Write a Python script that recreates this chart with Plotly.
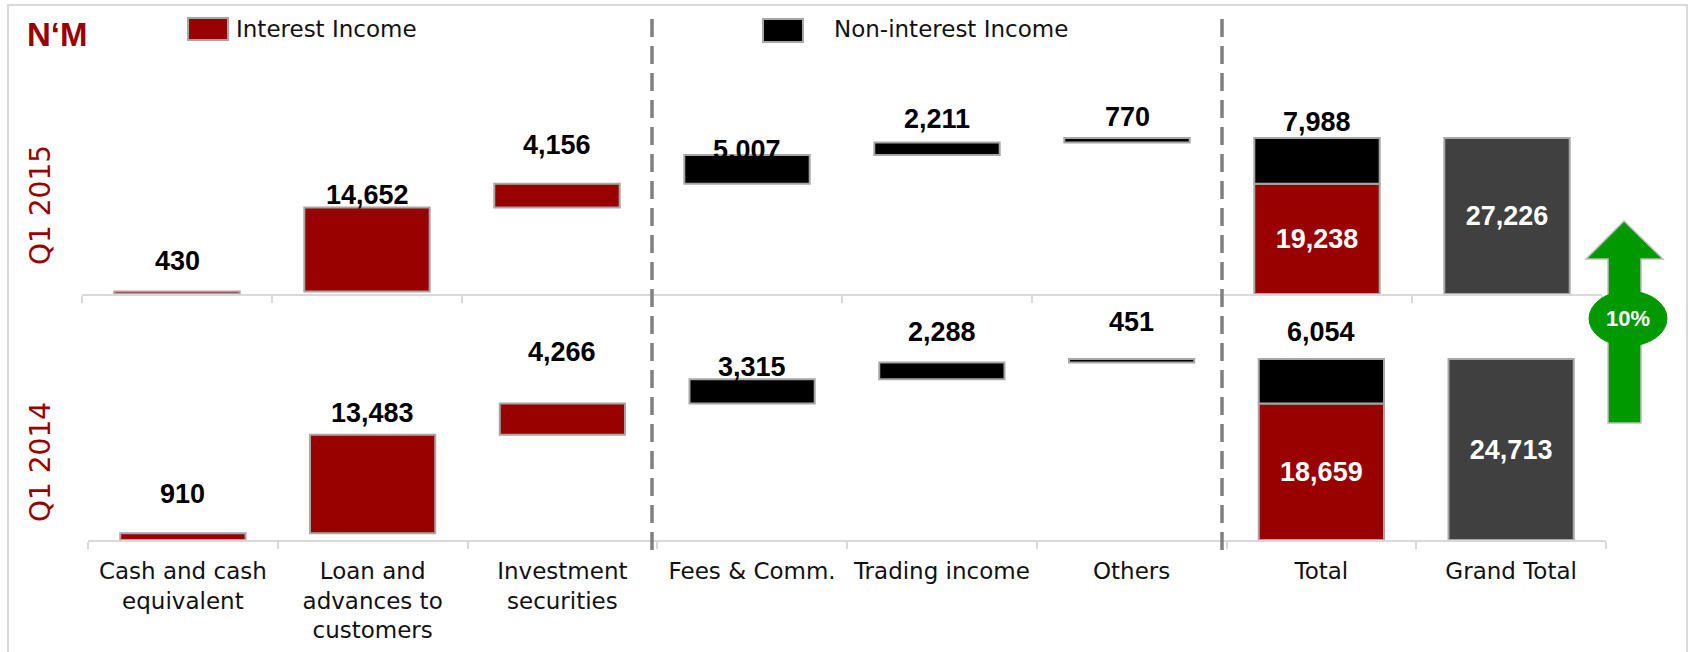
import plotly.graph_objects as go

W, H = 1690, 652

# ---- data -------------------------------------------------------------
categories = [
    "Cash and cash<br>equivalent",
    "Loan and<br>advances to<br>customers",
    "Investment<br>securities",
    "Fees & Comm.",
    "Trading income",
    "Others",
    "Total",
    "Grand Total",
]
interest_cats = categories[0:3]
non_interest_cats = categories[3:6]

periods = ["Q1 2015", "Q1 2014"]
interest_2015 = [430, 14652, 4156]
non_interest_2015 = [5007, 2211, 770]
interest_2014 = [910, 13483, 4266]
non_interest_2014 = [3315, 2288, 451]

# ---- styling ------------------------------------------------------------
RED = "#990000"
BLACK = "#000000"
GREY_TOTAL = "#404040"
OUTLINE = "#a6a6a6"
AXIS = "#d9d9d9"
GREEN = "#009900"
NUM_FONT = "Liberation Sans, Arial, sans-serif"
TXT_FONT = "DejaVu Sans, sans-serif"
BAR_W = 0.66

# pixel lift of each value label above the top of its bar
lift_2015 = [31, 13, 39, 5, 23, 21, 16]
lift_2014 = [39, 22, 51, 12, 30, 37, 27]


def fx(x):
    return x / W


def fy(y):
    return 1 - y / H


fig = go.Figure()
annotations = []


def add_panel(interest, non_interest, xa, ya, lifts):
    """Waterfall of one period: interest, non-interest, total, grand total."""
    xref = "x" if xa == "x" else "x2"
    yref = "y" if ya == "y" else "y2"
    int_total = sum(interest)
    non_total = sum(non_interest)
    grand = int_total + non_total

    int_base, run = [], 0
    for v in interest:
        int_base.append(run)
        run += v
    non_base = []
    for v in non_interest:
        non_base.append(run)
        run += v

    line = dict(color=OUTLINE, width=2)
    fig.add_bar(x=interest_cats, y=interest, base=int_base, marker=dict(color=RED, line=line),
                width=BAR_W, xaxis=xa, yaxis=ya, showlegend=False, hoverinfo="skip")
    fig.add_bar(x=non_interest_cats, y=non_interest, base=non_base, marker=dict(color=BLACK, line=line),
                width=BAR_W, xaxis=xa, yaxis=ya, showlegend=False, hoverinfo="skip")
    # stacked total
    fig.add_bar(x=["Total"], y=[int_total], base=[0], marker=dict(color=RED, line=line),
                width=BAR_W, xaxis=xa, yaxis=ya, showlegend=False, hoverinfo="skip",
                text=[f"<b>{int_total:,}</b>"], textposition="inside", insidetextanchor="middle",
                textangle=0, constraintext="none",
                textfont=dict(color="white", size=27, family=NUM_FONT))
    fig.add_bar(x=["Total"], y=[non_total], base=[int_total], marker=dict(color=BLACK, line=line),
                width=BAR_W, xaxis=xa, yaxis=ya, showlegend=False, hoverinfo="skip")
    fig.add_bar(x=["Grand Total"], y=[grand], base=[0], marker=dict(color=GREY_TOTAL, line=line),
                width=BAR_W, xaxis=xa, yaxis=ya, showlegend=False, hoverinfo="skip",
                text=[f"<b>{grand:,}</b>"], textposition="inside", insidetextanchor="middle",
                textangle=0, constraintext="none",
                textfont=dict(color="white", size=27, family=NUM_FONT))

    # value labels above the floating bars
    tops = [b + v for b, v in zip(int_base, interest)] + [b + v for b, v in zip(non_base, non_interest)] + [grand]
    vals = list(interest) + list(non_interest) + [non_total]
    cats = interest_cats + non_interest_cats + ["Total"]
    for c, t, v, s in zip(cats, tops, vals, lifts):
        annotations.append(dict(x=c, y=t, xref=xref, yref=yref, text=f"<b>{v:,}</b>",
                                showarrow=False, xanchor="center", yanchor="middle", yshift=s,
                                font=dict(size=27, color="black", family=NUM_FONT)))
    return grand


g2015 = add_panel(interest_2015, non_interest_2015, "x", "y", lift_2015)
g2014 = add_panel(interest_2014, non_interest_2014, "x2", "y2", lift_2014)
growth = g2015 / g2014 - 1

axis_common = dict(type="category", categoryorder="array", categoryarray=categories,
                   range=[-0.5, 7.5], showline=True, linecolor=AXIS, linewidth=2,
                   ticks="outside", tickson="boundaries", ticklen=7, tickwidth=2,
                   tickcolor=AXIS, showgrid=False, zeroline=False, fixedrange=True)

fig.update_layout(
    width=W, height=H, margin=dict(l=0, r=0, t=0, b=0),
    paper_bgcolor="white", plot_bgcolor="rgba(0,0,0,0)",
    barmode="overlay", showlegend=False,
    xaxis=dict(domain=[fx(82), fx(1602)], anchor="y", showticklabels=False, **axis_common),
    yaxis=dict(domain=[fy(294), fy(60)], range=[0, 40840], visible=False, fixedrange=True),
    xaxis2=dict(domain=[fx(88), fx(1606)], anchor="y2", showticklabels=True, ticklabelstandoff=9,
                tickfont=dict(family=TXT_FONT, size=23, color="#111111"), **axis_common),
    yaxis2=dict(domain=[fy(540), fy(310)], range=[0, 31420], visible=False, fixedrange=True),
)

shapes = []
# outer frame
shapes.append(dict(type="rect", xref="paper", yref="paper", x0=fx(8), x1=fx(1687), y0=fy(670), y1=fy(5),
                   line=dict(color=AXIS, width=2), fillcolor="rgba(0,0,0,0)", layer="below"))
# group separators
for xb in (2.5, 5.5):
    shapes.append(dict(type="line", xref="x", yref="paper", x0=xb, x1=xb, y0=fy(550), y1=fy(12),
                       line=dict(color="#808080", width=3.5, dash="18px,9px")))
# legend swatches
shapes.append(dict(type="rect", xref="paper", yref="paper", x0=fx(188), x1=fx(228), y0=fy(40), y1=fy(18),
                   fillcolor=RED, line=dict(color=OUTLINE, width=2)))
shapes.append(dict(type="rect", xref="paper", yref="paper", x0=fx(763), x1=fx(803), y0=fy(42), y1=fy(19),
                   fillcolor=BLACK, line=dict(color=OUTLINE, width=2)))
# growth arrow
arrow_pts = [(1624, 221), (1663, 259), (1641, 259), (1641, 423), (1608, 423), (1608, 259), (1586, 259)]
path = "M " + " L ".join(f"{fx(x):.5f},{fy(y):.5f}" for x, y in arrow_pts) + " Z"
shapes.append(dict(type="path", xref="paper", yref="paper", path=path,
                   fillcolor=GREEN, line=dict(color="#bfbfbf", width=1.5)))
shapes.append(dict(type="circle", xref="paper", yref="paper", x0=fx(1589), x1=fx(1667),
                   y0=fy(346), y1=fy(291), fillcolor=GREEN, line=dict(color=GREEN, width=1)))


def paper_text(x, y, text, size, color, family, xanchor="center", angle=0):
    return dict(x=fx(x), y=fy(y), xref="paper", yref="paper", text=text, showarrow=False,
                xanchor=xanchor, yanchor="middle", textangle=angle,
                font=dict(size=size, color=color, family=family))


annotations += [
    paper_text(58, 34, "<b>N‘M</b>", 33, RED, NUM_FONT),
    paper_text(234, 29, "Interest Income", 23, "#111111", TXT_FONT, xanchor="left"),
    paper_text(832, 29, "Non-interest Income", 23, "#111111", TXT_FONT, xanchor="left"),
    paper_text(40, 205, periods[0], 28, RED, TXT_FONT, angle=-90),
    paper_text(40, 462, periods[1], 28, RED, TXT_FONT, angle=-90),
    paper_text(1628, 318, f"<b>{growth:.0%}</b>", 22, "white", NUM_FONT),
]

fig.update_layout(shapes=shapes, annotations=annotations)
fig.write_html("out.html")
